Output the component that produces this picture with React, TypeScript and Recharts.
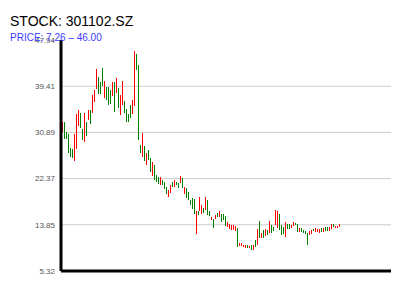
import { ComposedChart, Bar, XAxis, YAxis, CartesianGrid } from "recharts";

// daily ranges (low / high per session)
const lows = [
  31.0, 29.7, 29.7, 27.1, 26.5, 26.3, 25.7, 27.8, 32.1, 31.6,
  29.5, 29.0, 30.4, 33.2, 32.4, 34.4, 36.6, 38.8, 38.1, 37.8,
  39.4, 37.2, 36.9, 36.0, 36.2, 37.5, 34.5, 38.1, 35.3, 34.1,
  36.0, 34.4, 32.9, 32.9, 33.5, 34.4, 35.8, 42.4, 29.5, 27.1,
  26.3, 25.5, 24.9, 25.8, 23.6, 23.0, 22.1, 21.8, 21.5, 21.2,
  21.2, 20.6, 19.7, 19.0, 19.7, 20.9, 20.9, 21.2, 20.6, 21.5,
  20.6, 19.7, 18.7, 18.4, 17.5, 16.6, 15.9, 12.1, 15.5, 16.3,
  15.9, 16.0, 16.6, 15.7, 15.3, 14.7, 13.4, 15.0, 15.3, 15.2,
  14.5, 14.8, 13.6, 13.4, 13.0, 12.9, 12.9, 12.6, 9.8, 9.9,
  9.9, 9.8, 9.7, 9.6, 9.5, 9.3, 9.1, 9.8, 10.1, 11.4,
  11.4, 11.5, 11.8, 11.9, 12.3, 12.3, 12.6, 13.8, 13.2, 12.9,
  12.0, 12.3, 11.5, 12.9, 12.9, 13.2, 13.7, 13.8, 12.5, 12.5,
  12.4, 12.3, 12.2, 10.1, 12.0, 12.1, 12.6, 12.4, 12.4, 12.3,
  12.6, 12.4, 12.7, 12.7, 12.7, 12.9, 13.3, 13.3, 13.4, 13.3,
];

const highs = [
  32.8, 32.8, 30.9, 30.6, 28.1, 27.9, 30.6, 34.3, 35.1, 34.4,
  31.6, 34.4, 32.9, 35.1, 35.0, 37.8, 38.8, 42.5, 41.2, 40.1,
  42.8, 40.4, 39.3, 39.3, 38.8, 40.1, 40.1, 40.9, 39.0, 37.8,
  40.4, 36.7, 35.3, 34.3, 35.9, 36.9, 46.0, 45.4, 43.3, 28.6,
  30.8, 28.3, 27.1, 27.6, 26.1, 25.5, 24.9, 23.0, 22.7, 22.6,
  22.1, 21.8, 20.9, 20.3, 21.2, 21.8, 22.1, 21.8, 21.5, 22.8,
  22.4, 20.9, 20.6, 19.9, 18.5, 18.7, 18.6, 16.3, 16.3, 18.9,
  17.5, 17.0, 19.0, 18.4, 16.3, 15.3, 15.0, 15.7, 16.0, 16.3,
  15.9, 15.9, 15.5, 14.4, 13.9, 13.8, 13.8, 13.6, 13.3, 10.5,
  10.4, 10.2, 10.2, 10.1, 9.9, 10.2, 10.1, 11.0, 13.0, 14.6,
  12.3, 12.9, 13.0, 12.8, 14.6, 13.8, 13.4, 16.6, 16.3, 15.8,
  13.8, 13.5, 14.3, 13.9, 13.9, 13.8, 14.4, 14.2, 13.9, 13.3,
  13.2, 12.9, 12.7, 12.3, 12.7, 12.8, 13.0, 13.2, 13.0, 13.0,
  13.3, 13.2, 13.4, 13.4, 13.4, 13.9, 13.9, 13.7, 13.7, 13.9,
];

// r = red candle, g = green candle
const dirs = (
  "rgggggrrrg" + "grgrgrrrgg" + "grgggrgrgr" + "rggggrrggg" + "rgrggrgggr" +
  "gggrrgrggr" + "grgggggrgr" + "rgrggrgrgr" + "gggrrrrrgr" + "rrrgrgrgrg" +
  "rgrgrggrrg" + "ggrggrrggr" + "ggggrrgrrr" + "grggrrgrrr"
).split("");

const yTicks = [5.32, 13.85, 22.37, 30.89, 39.41, 47.94];
const title = "STOCK: 301102.SZ";
const subtitle = "PRICE: 7.26 – 46.00";

const data = lows.map((low, i) => ({ i, range: [low, highs[i]], dir: dirs[i] }));

const font = "'Liberation Sans', Arial, sans-serif";

// one thin candle (1px), coloured by direction
function Candle(props: any) {
  const { x, y, height, payload } = props;
  if (x == null || y == null || !payload) return null;
  const top = Math.round(height < 0 ? y + height : y);
  const h = Math.max(Math.round(Math.abs(height)), 1);
  const color = payload.dir === "r" ? "#ff0000" : "#008000";
  return <rect x={Math.round(x)} y={top} width={1} height={h} fill={color} stroke="none" />;
}

export default function App() {
  return (
    <div style={{ position: "absolute", left: 0, top: 0, width: 400, height: 300, background: "#fff" }}>
      <ComposedChart
        width={400}
        height={300}
        data={data}
        margin={{ top: 40, right: 9, bottom: 28, left: 0 }}
      >
        <CartesianGrid vertical={false} horizontalValues={yTicks.slice(1, -1)} stroke="#cccccc" />
        <XAxis
          dataKey="i"
          type="number"
          domain={[-1, 164.6]}
          tick={false}
          tickLine={false}
          height={1}
          axisLine={{ stroke: "#000", strokeWidth: 3 }}
        />
        <YAxis
          type="number"
          domain={[yTicks[0], yTicks[yTicks.length - 1]]}
          ticks={yTicks}
          interval={0}
          width={61}
          tickLine={false}
          tickSize={4}
          tickMargin={2}
          axisLine={{ stroke: "#000", strokeWidth: 3 }}
          tick={{ fontSize: 8, fill: "#555", fontFamily: font }}
          tickFormatter={(v) => v.toFixed(2)}
        />
        <Bar dataKey="range" barSize={1} isAnimationActive={false} shape={Candle} />
      </ComposedChart>
      <svg width={400} height={50} style={{ position: "absolute", left: 0, top: 0, pointerEvents: "none" }}>
        <text x={10} y={26} fontSize={14} fontFamily={font} fill="#000">
          {title}
        </text>
        <text x={10} y={41} fontSize={10} fontFamily={font} fill="#3b3bff">
          {subtitle}
        </text>
      </svg>
    </div>
  );
}
